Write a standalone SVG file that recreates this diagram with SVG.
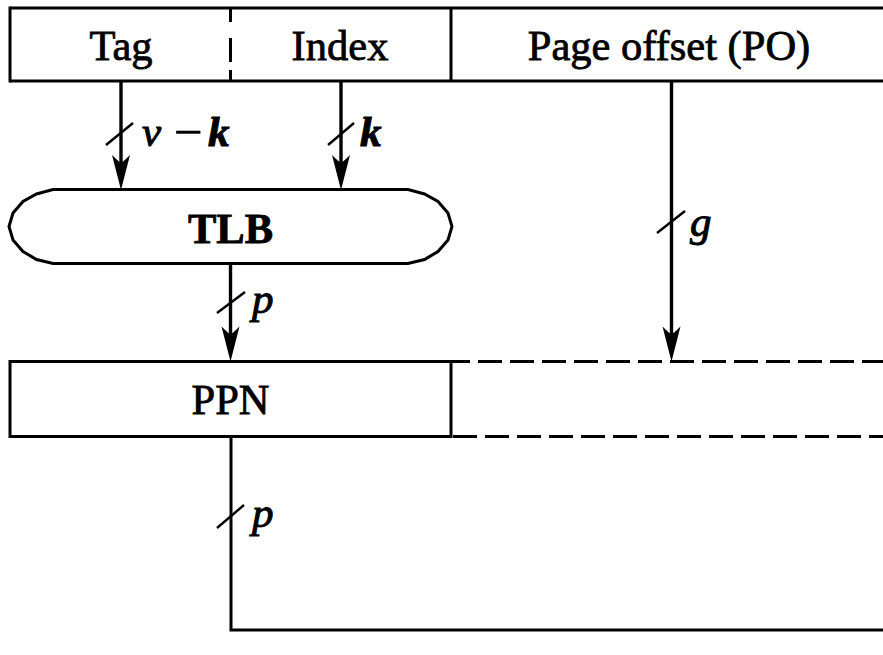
<svg xmlns="http://www.w3.org/2000/svg" width="883" height="655" viewBox="0 0 883 655">
  <style>
    .box { fill: none; stroke: #000; stroke-width: 3; }
    .wire { fill: none; stroke: #000; stroke-width: 3; }
    .arrow { fill: none; stroke: #000; stroke-width: 3.4; marker-end: url(#head); }
    .tick { stroke: #000; stroke-width: 2.4; }
    .dash { fill: none; stroke: #000; stroke-width: 3; stroke-dasharray: 24 8; }
    .lbl { font-family: "Liberation Serif", "Times New Roman", serif; font-size: 42.5px; fill: #000; stroke: #000; stroke-width: 0.8; }
    .name { text-anchor: middle; }
    .var { font-style: italic; font-size: 43px; stroke-width: 1; }
  </style>
  <defs>
    <!-- concave arrowhead; tip sits 10 units past the line end -->
    <marker id="head" markerUnits="userSpaceOnUse" viewBox="-26 -10 37 20" refX="0" refY="0" markerWidth="37" markerHeight="20" orient="auto">
      <path d="M10,0 L-25,-9 Q-19,-3 -17,0 Q-19,3 -25,9 Z" fill="#000"/>
    </marker>
  </defs>

  <!-- virtual address fields -->
  <g id="va">
    <line class="box" x1="10" y1="8" x2="883" y2="8"/>
    <line class="box" x1="10" y1="81" x2="883" y2="81"/>
    <line class="box" x1="10" y1="6.5" x2="10" y2="82.5"/>
    <line class="box" x1="451" y1="8" x2="451" y2="81"/>
    <path class="box" d="M230.5,8 V22 M230.5,38 V62 M230.5,70 V81"/>
    <text class="lbl name" x="121" y="60">Tag</text>
    <text class="lbl name" x="340" y="60">Index</text>
    <text class="lbl name" x="669" y="60">Page offset (PO)</text>
  </g>

  <!-- TLB -->
  <g id="tlb">
    <polygon class="box" points="53,189.5 408,189.5 424.5,194 438,201.5 448,213 452,226.5 448,240 438,251.5 424.5,259.5 408,263.5 53,263.5 36.5,259.5 23,251.5 13,240 9,226.5 13,213 23,201.5 36.5,194"/>
    <text class="lbl name" x="230.5" y="243" font-weight="bold" font-size="44">TLB</text>
  </g>

  <!-- physical address: PPN plus page offset -->
  <g id="pa">
    <rect class="box" x="10" y="361.5" width="441" height="75"/>
    <line class="dash" x1="451" y1="361.5" x2="883" y2="361.5" stroke-dashoffset="5"/>
    <line class="dash" x1="451" y1="436.5" x2="883" y2="436.5" stroke-dashoffset="-2"/>
    <text class="lbl name" x="230.5" y="414">PPN</text>
  </g>

  <g id="connectors">
    <!-- tag -> TLB -->
    <line class="arrow" x1="121" y1="81" x2="121" y2="180"/>
    <line class="tick" x1="106" y1="145" x2="133" y2="123"/>
    <text class="lbl var" y="146"><tspan x="142">v</tspan><tspan x="174" y="149" font-style="normal" font-size="51" stroke-width="0.6">−</tspan><tspan x="208" y="146" font-weight="bold">k</tspan></text>

    <!-- index -> TLB -->
    <line class="arrow" x1="341" y1="81" x2="341" y2="180"/>
    <line class="tick" x1="328" y1="145" x2="354" y2="123"/>
    <text class="lbl var" x="360" y="146" font-weight="bold">k</text>

    <!-- TLB -> PPN -->
    <line class="arrow" x1="230.5" y1="263" x2="230.5" y2="351.5"/>
    <line class="tick" x1="217" y1="313" x2="245" y2="292"/>
    <text class="lbl var" x="252" y="313">p</text>

    <!-- page offset passes straight through -->
    <line class="arrow" x1="671.5" y1="81" x2="671.5" y2="351.5"/>
    <line class="tick" x1="657" y1="233" x2="685" y2="211"/>
    <text class="lbl var" x="690" y="236">g</text>

    <!-- PPN out -->
    <polyline class="wire" points="231,436.5 231,630 883,630"/>
    <line class="tick" x1="217" y1="528" x2="244" y2="505"/>
    <text class="lbl var" x="252" y="527">p</text>
  </g>
</svg>
